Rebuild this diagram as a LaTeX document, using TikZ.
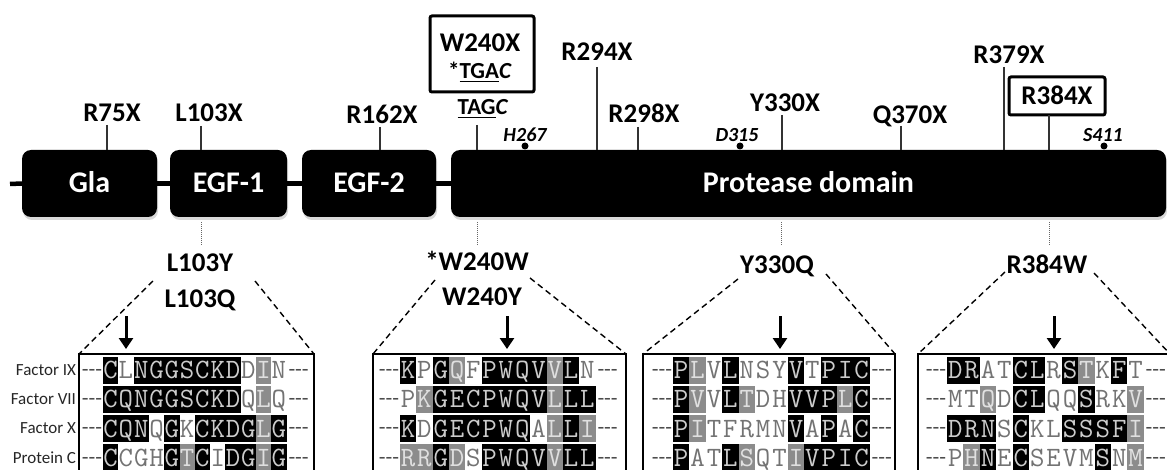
\documentclass[tikz,border=0pt]{standalone}
\usepackage{fontspec}
\setmainfont{Carlito}
\usetikzlibrary{arrows.meta,shadows}
\newcommand\thickul[1]{\setbox0\hbox{#1}\rlap{\rule[-4pt]{\wd0}{1.8pt}}\box0}
\def\cfB{black}\def\cfG{black!45}\def\cfW{white}
\def\ctB{white!80!black}\def\ctG{white!88!black}\def\ctW{black!55}
\newcommand\alnrow[5]{%
  \node[dashlab] (#1dl) at ({#2-11},{#4+2.6}) {{-}{-}{-}};
  \node[dashlab] (#1dr) at ({#2+12*#3+12},{#4+2.6}) {{-}{-}{-}};
  \foreach \sq/\ty [count=\ci] in {#5}{%
    \edef\tmpf{\csname cf\ty\endcsname}\edef\tmpt{\csname ct\ty\endcsname}%
    \node[seqcell, minimum width=#3pt, fill=\tmpf, text=\tmpt] (#1c\ci) at ({#2+(\ci-0.5)*#3},#4) {\sq};
  }}
\tikzset{
 every node/.style={inner sep=0pt, outer sep=0pt},
 dombox/.style={fill=black, rounded corners=9pt, text=white, font=\bfseries\fontsize{30}{30}\selectfont, text height=19pt, text depth=0pt, drop shadow={shadow xshift=1pt, shadow yshift=-3pt, opacity=0.3}},
 lab/.style={font=\bfseries\fontsize{27}{27}\selectfont, text height=17.4pt, text depth=0pt},
 sublab/.style={font=\bfseries\fontsize{23}{23}\selectfont, text height=14.8pt, text depth=0pt},
 site/.style={font=\bfseries\itshape\fontsize{20}{20}\selectfont, text height=12.9pt, text depth=0pt},
 sitedot/.style={circle, fill=black, minimum size=7pt},
 mutbox/.style={draw=black, line width=3pt, rounded corners=2pt},
 mtick/.style={line width=1.3pt, draw=black!80},
 backbone/.style={line width=4.5pt},
 dotline/.style={densely dotted, line width=1pt, draw=black!60},
 zoomline/.style={dash pattern=on 6pt off 4pt, line width=1.4pt},
 downarrow/.style={line width=3pt, -{Triangle[length=11pt,width=14pt]}},
 alnbox/.style={draw=black, line width=1.5pt},
 rowlab/.style={font=\fontsize{17}{17}\selectfont, anchor=east, text=black!85},
 seqcell/.style={font=\ttfamily\fontsize{28}{28}\selectfont, minimum height=27pt, text height=17pt, text depth=0pt},
 dashlab/.style={font=\fontsize{22}{22}\selectfont, text=black!70},
}
\begin{document}
\begin{tikzpicture}[x=1pt,y=-1pt]
\useasboundingbox (0,0) rectangle (1167,470);
\clip (0,0) rectangle (1167,470);

% domains
\node[dombox, minimum width=135pt, minimum height=67pt] (gla) at (89.5,183.5) {Gla};
\node[dombox, minimum width=117pt, minimum height=67pt] (egf1) at (228.5,183.5) {EGF-1};
\node[dombox, minimum width=134pt, minimum height=67pt] (egf2) at (369,183.5) {EGF-2};
\node[dombox, minimum width=715pt, minimum height=67pt] (prot) at (808.5,183.5) {Protease domain};
\coordinate (bbstart) at (10,184);
\draw[backbone] (bbstart) -- (gla.west);
\draw[backbone] (gla.east) -- (egf1.west);
\draw[backbone] (egf1.east) -- (egf2.west);
\draw[backbone] (egf2.east) -- (prot.west);

% top labels
\node[lab] (r75x) at (112,113) {R75X};
\node[lab] (l103x) at (209,113) {L103X};
\node[lab] (r162x) at (382,115) {R162X};
\node[mutbox, minimum width=104pt, minimum height=76pt] (w240box) at (482,54) {};
\node[lab] (w240x) at (480,43) {W240X};
\node[sublab] (tgac) at (480,71) {{*}\thickul{TGA}\textit{C}};
\node[sublab] (tagc) at (483,107) {\thickul{TAG}\textit{C}};
\node[lab] (r294x) at (597,52) {R294X};
\node[lab] (r298x) at (644,114) {R298X};
\node[lab] (y330x) at (785,103) {Y330X};
\node[lab] (q370x) at (910,115) {Q370X};
\node[lab] (r379x) at (1009,55) {R379X};
\node[lab, mutbox, minimum width=96pt, minimum height=38pt] (r384x) at (1057,96) {R384X};

\node[site] (h267) at (525,135) {H267};
\node[site] (d315) at (737,135) {D315};
\node[site] (s411) at (1103,135) {S411};
\node[sitedot] (h267d) at (525,146) {};
\node[sitedot] (d315d) at (740,146) {};
\node[sitedot] (s411d) at (1104,146) {};

% ticks
\coordinate (t75) at (107,125);
\coordinate (t103) at (201,126);
\coordinate (t162) at (380,127);
\coordinate (t240) at (477,125);
\coordinate (t294) at (597,67);
\coordinate (t298) at (638,127);
\coordinate (t330) at (782,115);
\coordinate (t370) at (901,126);
\coordinate (t379) at (1004,67);
\coordinate (t384) at (1049,115);
\draw[mtick] (t75) -- (t75 |- gla.north);
\draw[mtick] (t103) -- (t103 |- egf1.north);
\draw[mtick] (t162) -- (t162 |- egf2.north);
\draw[mtick] (t240) -- (t240 |- prot.north);
\draw[mtick] (t294) -- (t294 |- prot.north);
\draw[mtick] (t298) -- (t298 |- prot.north);
\draw[mtick] (t330) -- (t330 |- prot.north);
\draw[mtick] (t370) -- (t370 |- prot.north);
\draw[mtick] (t379) -- (t379 |- prot.north);
\draw[mtick] (t384) -- (t384 |- prot.north);

% dotted connectors
\coordinate (v1a) at (201,222); \coordinate (v1b) at (201,246);
\coordinate (v2a) at (477,222); \coordinate (v2b) at (477,246);
\coordinate (v3a) at (781,222); \coordinate (v3b) at (781,246);
\coordinate (v4a) at (1049,222); \coordinate (v4b) at (1049,246);
\draw[dotline] (v1a) -- (v1b);
\draw[dotline] (v2a) -- (v2b);
\draw[dotline] (v3a) -- (v3b);
\draw[dotline] (v4a) -- (v4b);

% lower labels
\node[lab] (l103y) at (200,263) {L103Y};
\node[lab] (l103q) at (200,299) {L103Q};
\node[lab] (w240w) at (477,262) {*W240W};
\node[lab] (w240y) at (482,297) {W240Y};
\node[lab] (y330q) at (777,265) {Y330Q};
\node[lab] (r384w) at (1047,265) {R384W};

% alignment boxes
\node[alnbox, minimum width=235pt, minimum height=140pt, anchor=north west] (box1) at (79,354) {};
\node[alnbox, minimum width=253pt, minimum height=140pt, anchor=north west] (box2) at (373,354) {};
\node[alnbox, minimum width=252pt, minimum height=140pt, anchor=north west] (box3) at (643,354) {};
\node[alnbox, minimum width=252pt, minimum height=140pt, anchor=north west] (box4) at (918,354) {};

% zoom lines
\coordinate (z1l) at (153,281); \coordinate (z1r) at (255,281);
\coordinate (z2l) at (435,280); \coordinate (z2r) at (530,278);
\coordinate (z3l) at (738,279); \coordinate (z3r) at (826,274);
\coordinate (z4l) at (1005,272); \coordinate (z4r) at (1094,273);
\draw[zoomline] (z1l) -- (box1.north west);
\draw[zoomline] (z1r) -- (box1.north east);
\draw[zoomline] (z2l) -- (box2.north west);
\draw[zoomline] (z2r) -- (box2.north east);
\draw[zoomline] (z3l) -- (box3.north west);
\draw[zoomline] (z3r) -- (box3.north east);
\draw[zoomline] (z4l) -- (box4.north west);
\draw[zoomline] (z4r) -- (box4.north east);

% arrows
\coordinate (a1s) at (126,316); \coordinate (a1e) at (126,349);
\coordinate (a2s) at (507,316); \coordinate (a2e) at (507,349);
\coordinate (a3s) at (780,316); \coordinate (a3e) at (780,349);
\coordinate (a4s) at (1054,316); \coordinate (a4e) at (1054,349);
\draw[downarrow] (a1s) -- (a1e);
\draw[downarrow] (a2s) -- (a2e);
\draw[downarrow] (a3s) -- (a3e);
\draw[downarrow] (a4s) -- (a4e);

% row labels
\node[rowlab] (rl1) at (76,370) {Factor IX};
\node[rowlab] (rl2) at (76,399.3) {Factor VII};
\node[rowlab] (rl3) at (76,428.6) {Factor X};
\node[rowlab] (rl4) at (76,457.9) {Protein C};

% box 1
\alnrow{ba1}{103}{15.3}{370}{C/B,L/W,N/B,G/B,G/B,S/B,C/B,K/B,D/B,D/W,I/G,N/W}
\alnrow{ba2}{103}{15.3}{399.3}{C/B,Q/B,N/B,G/B,G/B,S/B,C/B,K/B,D/B,Q/W,L/G,Q/W}
\alnrow{ba3}{103}{15.3}{428.6}{C/B,Q/B,N/B,Q/W,G/B,K/W,C/B,K/B,D/B,G/B,L/G,G/B}
\alnrow{ba4}{103}{15.3}{457.9}{C/B,C/W,G/W,H/W,G/B,T/G,C/B,I/W,D/B,G/B,I/G,G/B}
% box 2
\alnrow{bb1}{400}{16.3}{370}{K/B,P/W,G/B,Q/G,F/W,P/B,W/B,Q/B,V/B,V/G,L/B,N/W}
\alnrow{bb2}{400}{16.3}{399.3}{P/W,K/G,G/B,E/B,C/B,P/B,W/B,Q/B,V/B,L/G,L/B,L/B}
\alnrow{bb3}{400}{16.3}{428.6}{K/B,D/W,G/B,E/B,C/B,P/B,W/B,Q/B,A/W,L/G,L/B,I/G}
\alnrow{bb4}{400}{16.3}{457.9}{R/G,R/G,G/B,D/G,S/W,P/B,W/B,Q/B,V/B,V/G,L/B,L/B}
% box 3
\alnrow{bc1}{673}{16.4}{370}{P/B,L/G,V/W,L/B,N/W,S/W,Y/W,V/B,T/W,P/B,I/B,C/B}
\alnrow{bc2}{673}{16.4}{399.3}{P/B,V/G,V/W,L/B,T/G,D/W,H/W,V/B,V/B,P/B,L/G,C/B}
\alnrow{bc3}{673}{16.4}{428.6}{P/B,I/G,T/W,F/W,R/W,M/W,N/W,V/B,A/W,P/B,A/W,C/B}
\alnrow{bc4}{673}{16.4}{457.9}{P/B,A/W,T/W,L/B,S/G,Q/W,T/W,I/G,V/B,P/B,I/B,C/B}
% box 4
\alnrow{bd1}{947}{16.4}{370}{D/B,R/B,A/W,T/W,C/B,L/B,R/W,S/B,T/G,K/W,F/B,T/W}
\alnrow{bd2}{947}{16.4}{399.3}{M/W,T/W,Q/G,D/W,C/B,L/B,Q/W,Q/W,S/B,R/W,K/W,V/G}
\alnrow{bd3}{947}{16.4}{428.6}{D/B,R/B,N/B,S/W,C/B,K/W,L/W,S/B,S/B,S/B,F/B,I/G}
\alnrow{bd4}{947}{16.4}{457.9}{P/W,H/G,N/B,E/W,C/B,S/W,E/W,V/W,M/W,S/B,N/W,M/G}
\end{tikzpicture}
\end{document}
